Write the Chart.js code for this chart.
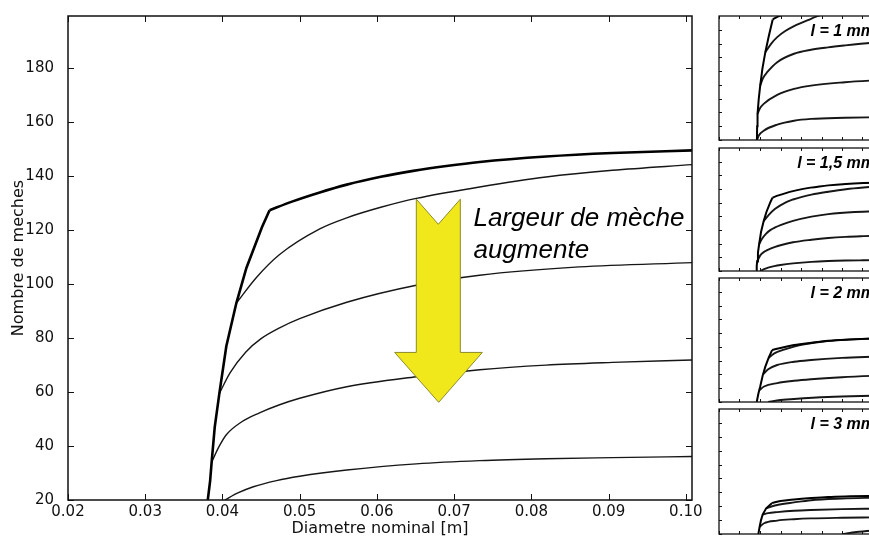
<!DOCTYPE html>
<html lang="fr">
<head>
<meta charset="utf-8">
<title>Nombre de meches</title>
<script src="https://cdn.jsdelivr.net/npm/chart.js@4.4.1/dist/chart.umd.min.js"></script>
<style>
  html, body { margin: 0; padding: 0; background: #fff; }
  body { position: relative; width: 869px; height: 539px; overflow: hidden; }
  canvas { position: absolute; }
  #main { left: 0; top: 0; }
  #p1 { left: 718px; top: 15px; }
  #p2 { left: 718px; top: 147px; }
  #p3 { left: 718px; top: 277px; }
  #p4 { left: 718px; top: 408px; }
</style>
</head>
<body>
<canvas id="main" width="712" height="539"></canvas>
<canvas id="p1" width="166" height="126"></canvas>
<canvas id="p2" width="166" height="125"></canvas>
<canvas id="p3" width="166" height="126"></canvas>
<canvas id="p4" width="166" height="127"></canvas>
<script>
// Curves are [diametre (m), nombre de meches].
// The envelope is split at its corner: "rise" (steep part) and "top" (plateau).

// l = 1 mm
const l10_rise = [[0.0385,20],[0.0386,40],[0.0388,58],[0.0394,80],[0.0401,99],[0.0412,124],[0.0426,147.5],[0.0443,171],[0.0462,195]];
const l10_top = [[0.0462,195],[0.0480,198],[0.0500,200.5],[0.0550,206]];
const l10_c2 = [[0.0426,147.5],[0.0455,160],[0.0484,169.3],[0.0525,178.5],[0.0566,185.4],[0.0649,196],[0.0700,202]];
const l10_c3 = [[0.0401,99],[0.0415,110],[0.0435,118.4],[0.0484,133],[0.0566,145.2],[0.0649,151],[0.0731,154.5],[0.0814,157.3],[0.0946,161.2],[0.1008,162.5]];
const l10_c4 = [[0.0388,58],[0.0400,66],[0.0418,72.4],[0.0484,85.5],[0.0566,94.2],[0.0649,99],[0.0814,103.8],[0.0946,106.3],[0.1008,107.2]];
const l10_c5 = [[0.0385,20],[0.0395,27],[0.0418,33.5],[0.0484,42.3],[0.0566,48],[0.0649,50.6],[0.0814,52.2],[0.0946,53],[0.1008,53.3]];

// l = 1,5 mm (also the large plot)
const l15_rise = [[0.0381,20],[0.0384,27],[0.0386,34],[0.0390,47],[0.0396,59.5],[0.0405,77],[0.0418,93],[0.0431,106],[0.0451,121],[0.0461,127.4]];
const l15_top = [[0.0461,127.4],[0.0490,130.6],[0.0526,134],[0.0561,136.9],[0.0605,139.8],[0.0647,142],[0.0690,143.8],[0.0733,145.3],[0.0819,147.3],[0.0905,148.6],[0.1008,149.6]];
const l15_c2 = [[0.0418,93],[0.0444,102.5],[0.0474,111],[0.0526,120.5],[0.0561,124.6],[0.0605,128.5],[0.0651,131.8],[0.0733,136],[0.0819,139.7],[0.0905,142.2],[0.1008,144.3]];
const l15_c3 = [[0.0396,59.5],[0.0410,67.2],[0.0430,74.8],[0.0450,79.8],[0.0474,83.8],[0.0500,87.2],[0.0561,93.3],[0.0651,99.6],[0.0733,103.3],[0.0862,106.4],[0.1008,108]];
const l15_c4 = [[0.0386,34],[0.0395,39.5],[0.0405,44.2],[0.0425,49],[0.0448,52.3],[0.0474,55.3],[0.0500,57.7],[0.0561,62],[0.0651,65.7],[0.0733,68.3],[0.0819,70],[0.0905,71],[0.1008,71.9]];
const l15_c5 = [[0.0403,20],[0.0420,22.6],[0.0440,24.9],[0.0470,27.2],[0.0500,28.8],[0.0561,31.1],[0.0651,33.4],[0.0733,34.6],[0.0819,35.3],[0.0905,35.7],[0.1008,36.1]];

// l = 2 mm
const l20_rise = [[0.0384,20],[0.0392,32],[0.0401,42.5],[0.0413,58],[0.0426,71.3],[0.0442,84],[0.0459,95.4]];
const l20_top = [[0.0459,95.4],[0.0500,98.5],[0.0566,102.6],[0.0650,106],[0.0732,108.8],[0.0840,110.8],[0.0946,112.2],[0.1008,112.8]];
const l20_c2 = [[0.0442,84],[0.0470,90.5],[0.0517,96],[0.0566,100.5],[0.0616,103.8],[0.0700,107.5],[0.0800,110.2],[0.0946,112],[0.1008,112.6]];
const l20_c3 = [[0.0415,60],[0.0440,67.5],[0.0484,73.7],[0.0566,78.5],[0.0649,81],[0.0800,84],[0.0946,85.7],[0.1008,86.3]];
const l20_c4 = [[0.0396,37],[0.0420,42.5],[0.0484,47.4],[0.0566,50.8],[0.0649,53.1],[0.0800,56],[0.0946,57.9],[0.1008,58.5]];
const l20_c5 = [[0.0440,20],[0.0490,22.5],[0.0566,24.3],[0.0732,27.2],[0.0946,29],[0.1008,29.4]];

// l = 3 mm
const l30_rise = [[0.0392,20],[0.0398,30],[0.0405,40],[0.0413,48],[0.0430,57],[0.0459,64.8]];
const l30_top = [[0.0459,64.8],[0.0500,67.5],[0.0566,69.7],[0.0650,71.8],[0.0732,73.4],[0.0840,74.3],[0.0946,74.9],[0.1008,75.2]];
const l30_c2 = [[0.0430,57],[0.0460,60],[0.0484,61.8],[0.0566,65.5],[0.0649,68.7],[0.0800,71],[0.0946,72.2],[0.1008,72.6]];
const l30_c3 = [[0.0413,48],[0.0440,50],[0.0484,51.5],[0.0566,53.5],[0.0649,54.6],[0.0800,55.8],[0.0946,56.4],[0.1008,56.6]];
const l30_c4 = [[0.0398,30],[0.0420,35.5],[0.0484,39.3],[0.0566,41.3],[0.0649,42.5],[0.0800,43.4],[0.0946,43.9],[0.1008,44.1]];
const l30_c5 = [[0.0800,20],[0.0870,22.8],[0.0946,24.7],[0.1008,25.8]];

const panelLabels = ['l = 1 mm', 'l = 1,5 mm', 'l = 2 mm', 'l = 3 mm'];
const xTickValues = [0.02, 0.03, 0.04, 0.05, 0.06, 0.07, 0.08, 0.09, 0.10];
const yTickValues = [20, 40, 60, 80, 100, 120, 140, 160, 180];

// annotation arrow, in data units
const arrow = { left: 0.0651, right: 0.0708, top: 131.5, notch: 122.2, neck: 74.7,
                headLeft: 0.0623, headRight: 0.07365, tipX: 0.0680, tipY: 56.2 };
const noteLines = ['Largeur de mèche', 'augmente'];

Chart.defaults.font.family = '"DejaVu Sans", sans-serif';
Chart.defaults.color = '#111';

// curves order: rise, top, c2..c5
function toDatasets(curves, envWidth, width) {
  return curves.map((pts, i) => ({
    data: pts.map(([x, y]) => ({ x, y })),
    borderColor: i < 2 ? '#000' : '#161616',
    borderWidth: i < 2 ? envWidth : width,
    pointRadius: 0,
    fill: false,
    clip: 0,
    tension: 0,
    cubicInterpolationMode: i === 0 ? 'default' : 'monotone'
  }));
}

// matplotlib-like box with inward ticks on all four sides
function boxTicks(tickLen, frameWidth) {
  return {
    id: 'boxTicks',
    afterDatasetsDraw(chart) {
      const { ctx, chartArea: a, scales: { x, y } } = chart;
      ctx.save();
      ctx.strokeStyle = '#111';
      ctx.lineWidth = 1;
      ctx.beginPath();
      xTickValues.forEach(v => {
        const px = Math.round(x.getPixelForValue(v)) + 0.5;
        ctx.moveTo(px, a.bottom); ctx.lineTo(px, a.bottom - tickLen);
        ctx.moveTo(px, a.top); ctx.lineTo(px, a.top + tickLen);
      });
      yTickValues.forEach(v => {
        const py = Math.round(y.getPixelForValue(v)) + 0.5;
        ctx.moveTo(a.left, py); ctx.lineTo(a.left + tickLen, py);
        ctx.moveTo(a.right, py); ctx.lineTo(a.right - tickLen, py);
      });
      ctx.stroke();
      ctx.lineWidth = frameWidth;
      ctx.strokeRect(a.left, a.top, a.right - a.left, a.bottom - a.top);
      ctx.restore();
    }
  };
}

// yellow arrow and its caption
const arrowNote = {
  id: 'arrowNote',
  afterDraw(chart) {
    const { ctx, scales: { x, y } } = chart;
    const X = v => x.getPixelForValue(v), Y = v => y.getPixelForValue(v);
    const mid = (arrow.left + arrow.right) / 2;
    ctx.save();
    ctx.beginPath();
    ctx.moveTo(X(arrow.left), Y(arrow.top));
    ctx.lineTo(X(mid), Y(arrow.notch));
    ctx.lineTo(X(arrow.right), Y(arrow.top));
    ctx.lineTo(X(arrow.right), Y(arrow.neck));
    ctx.lineTo(X(arrow.headRight), Y(arrow.neck));
    ctx.lineTo(X(arrow.tipX), Y(arrow.tipY));
    ctx.lineTo(X(arrow.headLeft), Y(arrow.neck));
    ctx.lineTo(X(arrow.left), Y(arrow.neck));
    ctx.closePath();
    ctx.fillStyle = '#f0e81a';
    ctx.fill();
    ctx.strokeStyle = '#8c8a2a';
    ctx.lineWidth = 1;
    ctx.stroke();

    ctx.fillStyle = '#000';
    ctx.font = 'italic 26px "Liberation Sans", Arial, sans-serif';
    ctx.textAlign = 'left';
    ctx.textBaseline = 'alphabetic';
    ctx.fillText(noteLines[0], X(0.0725), Y(121.5));
    ctx.fillText(noteLines[1], X(0.0725), Y(109.6));
    ctx.restore();
  }
};

new Chart(document.getElementById('main'), {
  type: 'line',
  data: { datasets: toDatasets([l15_rise, l15_top, l15_c2, l15_c3, l15_c4, l15_c5], 2.6, 1.4) },
  options: {
    responsive: false,
    animation: false,
    layout: { padding: { top: 16, right: 20, left: 0, bottom: 0 } },
    plugins: { legend: { display: false }, tooltip: { enabled: false } },
    elements: { line: { capBezierPoints: false } },
    scales: {
      x: {
        type: 'linear', min: 0.02, max: 0.1008,
        grid: { display: false }, border: { display: false },
        ticks: {
          stepSize: 0.01, includeBounds: false, autoSkip: false, maxRotation: 0,
          padding: -5, font: { size: 15 },
          callback: v => v.toFixed(2)
        },
        title: { display: true, text: 'Diametre nominal [m]', font: { size: 16 }, padding: { top: 0, bottom: 1 } },
        afterFit: s => { s.height = 39; }
      },
      y: {
        type: 'linear', min: 20, max: 199.4,
        grid: { display: false }, border: { display: false },
        ticks: { stepSize: 20, includeBounds: false, autoSkip: false, padding: 6, font: { size: 15 } },
        title: { display: true, text: 'Nombre de meches', font: { size: 16 }, padding: { top: 9.5, bottom: 0 } },
        afterFit: s => { s.width = 68; }
      }
    }
  },
  plugins: [boxTicks(6, 1.5), arrowNote]
});

// small panels, one per wick width
const panelCurves = [
  [l10_rise, l10_top, l10_c2, l10_c3, l10_c4, l10_c5],
  [l15_rise, l15_top, l15_c2, l15_c3, l15_c4, l15_c5],
  [l20_rise, l20_top, l20_c2, l20_c3, l20_c4, l20_c5],
  [l30_rise, l30_top, l30_c2, l30_c3, l30_c4, l30_c5]
];

panelCurves.forEach((curves, i) => {
  const label = {
    id: 'panelLabel',
    afterDraw(chart) {
      const { ctx, chartArea: a } = chart;
      ctx.save();
      ctx.fillStyle = '#000';
      ctx.font = 'italic bold 16px "Liberation Sans", Arial, sans-serif';
      ctx.textAlign = 'right';
      ctx.textBaseline = 'middle';
      ctx.fillText(panelLabels[i], a.right - 8, a.top + 15.5);
      ctx.restore();
    }
  };
  new Chart(document.getElementById('p' + (i + 1)), {
    type: 'line',
    data: { datasets: toDatasets(curves, 2, 1.9) },
    options: {
      responsive: false,
      animation: false,
      layout: { padding: 1 },
      plugins: { legend: { display: false }, tooltip: { enabled: false } },
      elements: { line: { capBezierPoints: false } },
      scales: {
        x: { type: 'linear', display: false, min: 0.02, max: 0.10 },
        y: { type: 'linear', display: false, min: 20, max: 200 }
      }
    },
    plugins: [boxTicks(3, 1.3), label]
  });
});
</script>
</body>
</html>
